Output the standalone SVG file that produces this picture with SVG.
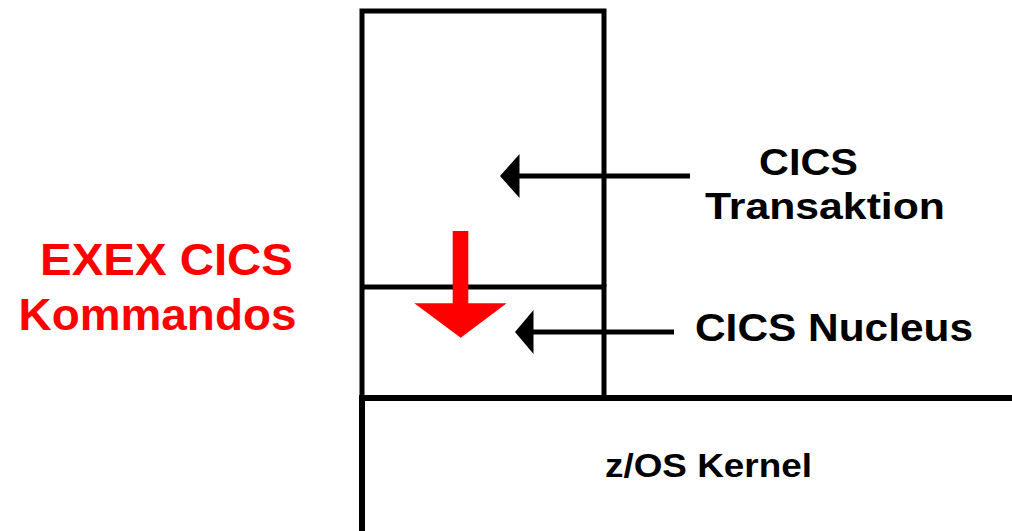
<svg xmlns="http://www.w3.org/2000/svg" width="1012" height="531" viewBox="0 0 1012 531">
<style>
.frame{fill:none;stroke:#000;stroke-width:5}
.conn{stroke:#000;stroke-width:5;fill:none}
.head{fill:#000}
.lbl{font-family:"Liberation Sans",Arial,sans-serif;font-weight:bold;fill:#000}
.red{font-family:"Liberation Sans",Arial,sans-serif;font-weight:bold;fill:#ff0000}
</style>
<rect width="1012" height="531" fill="#fff"/>
<g id="cics-transaktion">
<path class="frame" d="M362 398 V11 H604 V287"/>
</g>
<g id="cics-nucleus">
<path class="frame" d="M362 287 H604 V398"/>
</g>
<g id="zos-kernel">
<path class="frame" d="M362 531 V398 H1012" style="stroke-width:6"/>
<text class="lbl" x="605" y="476.5" font-size="34" textLength="207" lengthAdjust="spacingAndGlyphs">z/OS Kernel</text>
</g>
<g id="label-transaktion">
<text class="lbl" x="759" y="174.5" font-size="37" textLength="99" lengthAdjust="spacingAndGlyphs">CICS</text>
<text class="lbl" x="705" y="218.5" font-size="37" textLength="240" lengthAdjust="spacingAndGlyphs">Transaktion</text>
</g>
<g id="label-nucleus">
<text class="lbl" x="695" y="340.8" font-size="38.5" textLength="278" lengthAdjust="spacingAndGlyphs">CICS Nucleus</text>
</g>
<g id="label-exec">
<text class="red" x="40" y="275" font-size="45" textLength="253" lengthAdjust="spacingAndGlyphs">EXEX CICS</text>
<text class="red" x="18.5" y="330" font-size="44.5" textLength="278" lengthAdjust="spacingAndGlyphs">Kommandos</text>
</g>
<g id="connectors">
<line class="conn" x1="690" y1="176" x2="515" y2="176"/>
<path class="head" d="M500 176 L519.5 154 L519.5 198 Z"/>
<line class="conn" x1="674" y1="332" x2="530" y2="332"/>
<path class="head" d="M515 332 L533.5 310 L533.5 354 Z"/>
<path fill="#ff0000" d="M452.7 231 H468.3 V303.3 H506.7 L460.7 337.7 L414.3 303.3 H452.7 Z"/>
</g>
</svg>
